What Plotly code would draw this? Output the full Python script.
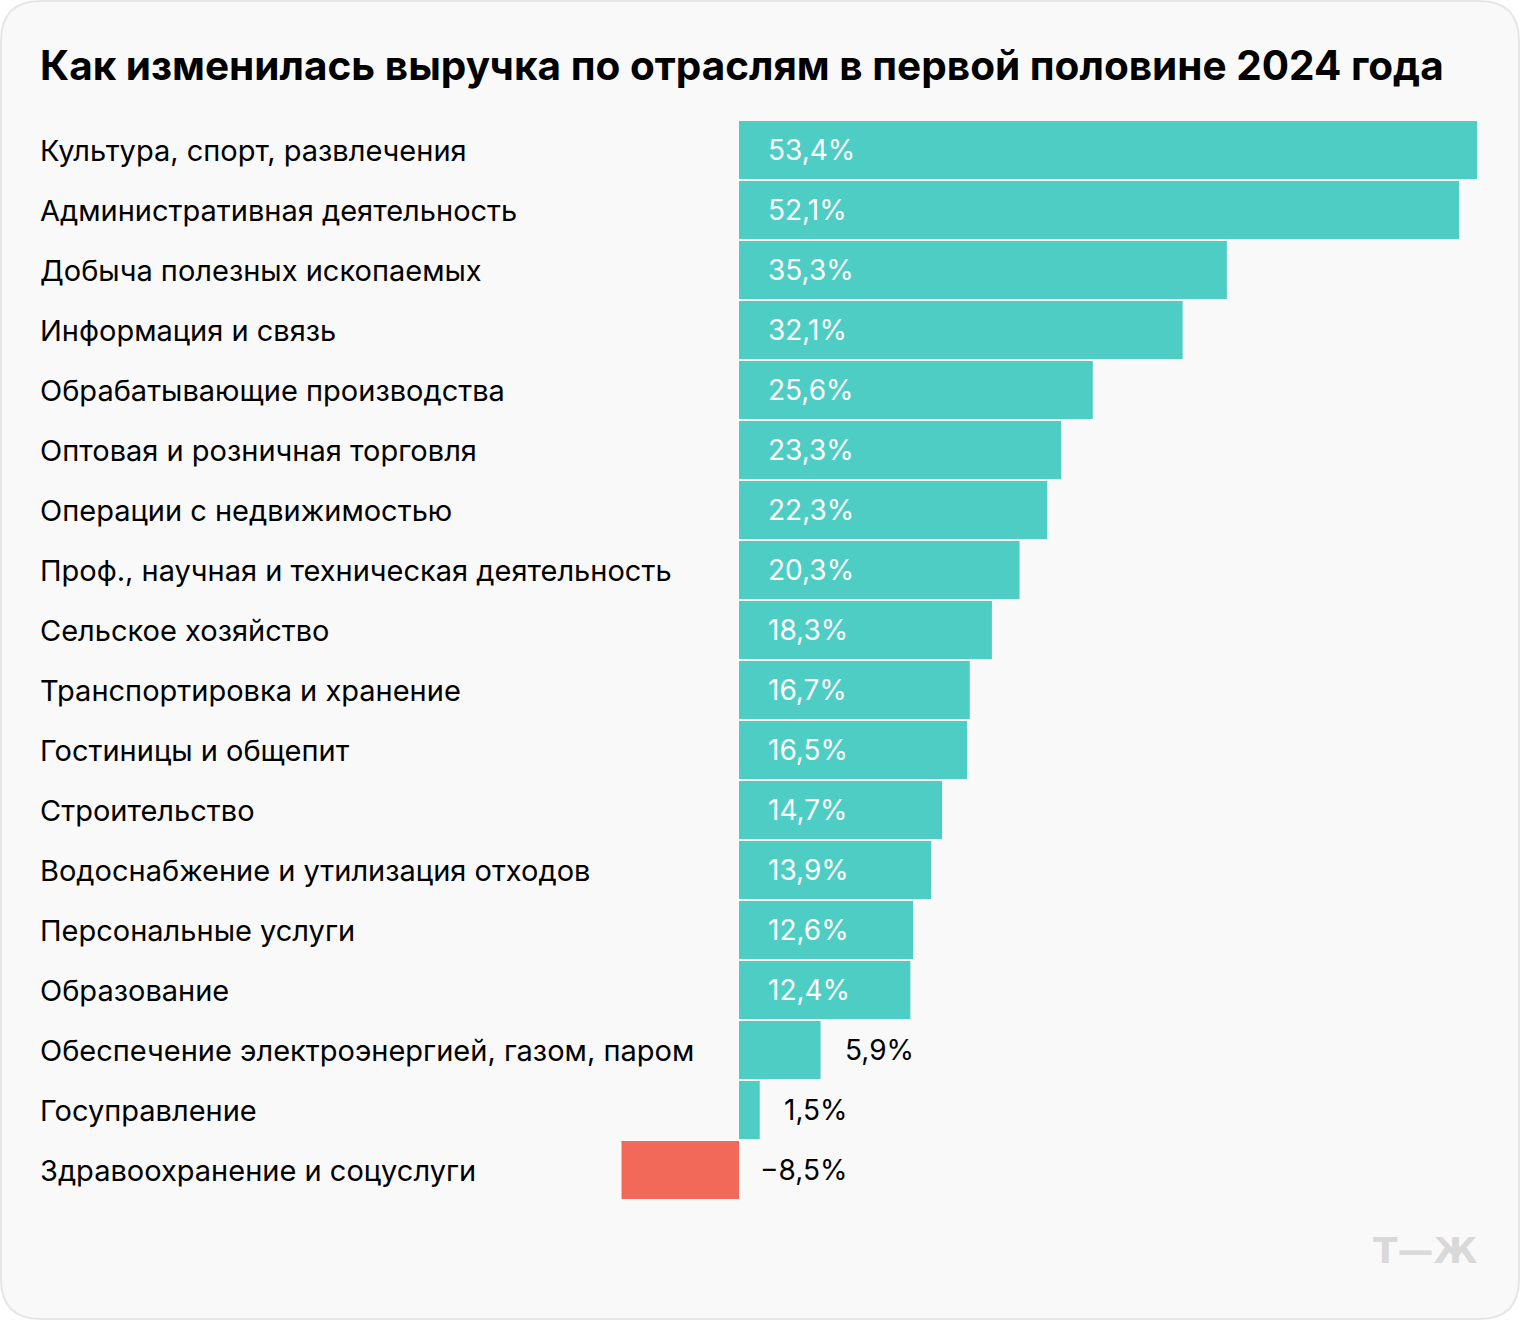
import plotly.graph_objects as go

categories = [
    "Культура, спорт, развлечения",
    "Административная деятельность",
    "Добыча полезных ископаемых",
    "Информация и связь",
    "Обрабатывающие производства",
    "Оптовая и розничная торговля",
    "Операции с недвижимостью",
    "Проф., научная и техническая деятельность",
    "Сельское хозяйство",
    "Транспортировка и хранение",
    "Гостиницы и общепит",
    "Строительство",
    "Водоснабжение и утилизация отходов",
    "Персональные услуги",
    "Образование",
    "Обеспечение электроэнергией, газом, паром",
    "Госуправление",
    "Здравоохранение и соцуслуги",
]
values = [53.4, 52.1, 35.3, 32.1, 25.6, 23.3, 22.3, 20.3, 18.3, 16.7, 16.5,
          14.7, 13.9, 12.6, 12.4, 5.9, 1.5, -8.5]
value_labels = ["53,4%", "52,1%", "35,3%", "32,1%", "25,6%", "23,3%", "22,3%",
                "20,3%", "18,3%", "16,7%", "16,5%", "14,7%", "13,9%", "12,6%",
                "12,4%", "5,9%", "1,5%", "−8,5%"]
title = "Как изменилась выручка по отраслям в первой половине 2024 года"

W, H = 1520, 1320
L, R, T, B = 600, 1477, 120, 1200  # plot area in px
TEAL = "#4ecdc4"
RED = "#f26859"
FONT = "Inter, Roboto, sans-serif"

# axis range: 0 at px 739, max value at right edge
zero_px = 739
xmax = max(values)
ppu = (R - zero_px) / xmax
xmin = -(zero_px - L) / ppu

colors = [TEAL if v >= 0 else RED for v in values]

fig = go.Figure(go.Bar(
    x=values, y=categories, orientation="h",
    marker=dict(color=colors, line=dict(width=0)),
    hoverinfo="skip",
))

def px2x(px):
    return (px - L) / (R - L)

def py2y(py):
    return (B - py) / (B - T)

annotations = []
# title
annotations.append(dict(
    text="<b>" + title + "</b>", x=px2x(38), y=py2y(65), xref="paper", yref="paper",
    xanchor="left", yanchor="middle", showarrow=False,
    font=dict(family=FONT, size=40.5, color="#000000"),
))
for cat, v, lab in zip(categories, values, value_labels):
    annotations.append(dict(
        text=cat, x=px2x(38), y=cat, xref="paper", yref="y",
        xanchor="left", yanchor="middle", showarrow=False,
        font=dict(family=FONT, size=29, color="#000000"),
    ))
    if v >= 8:
        annotations.append(dict(text=lab, x=0, y=cat, xref="x", yref="y",
                                xanchor="left", yanchor="middle", xshift=27,
                                showarrow=False,
                                font=dict(family=FONT, size=28, color="#ffffff")))
    elif v >= 0:
        annotations.append(dict(text=lab, x=v, y=cat, xref="x", yref="y",
                                xanchor="left", yanchor="middle", xshift=22,
                                showarrow=False,
                                font=dict(family=FONT, size=28, color="#000000")))
    else:
        annotations.append(dict(text=lab, x=0, y=cat, xref="x", yref="y",
                                xanchor="left", yanchor="middle", xshift=19,
                                showarrow=False,
                                font=dict(family=FONT, size=28, color="#000000")))

# logo
annotations.append(dict(
    text="<b>Т—Ж</b>", x=px2x(1480), y=py2y(1250), xref="paper", yref="paper",
    xanchor="right", yanchor="middle", showarrow=False,
    font=dict(family="DejaVu Sans, sans-serif", size=36, color="#d9d9d9"),
))

# rounded card
x0, y0, x1, y1, r = 1, 1, 1519, 1319, 40
def P(px, py):
    return f"{px2x(px):.5f},{py2y(py):.5f}"
path = (f"M {P(x0 + r, y0)} L {P(x1 - r, y0)} Q {P(x1, y0)} {P(x1, y0 + r)} "
        f"L {P(x1, y1 - r)} Q {P(x1, y1)} {P(x1 - r, y1)} "
        f"L {P(x0 + r, y1)} Q {P(x0, y1)} {P(x0, y1 - r)} "
        f"L {P(x0, y0 + r)} Q {P(x0, y0)} {P(x0 + r, y0)} Z")

fig.update_layout(
    width=W, height=H,
    margin=dict(l=L, r=W - R, t=T, b=H - B, pad=0),
    paper_bgcolor="#ffffff", plot_bgcolor="rgba(0,0,0,0)",
    showlegend=False,
    bargap=2 / 60,
    xaxis=dict(range=[xmin, xmax], visible=False, fixedrange=True),
    yaxis=dict(autorange="reversed", visible=False, fixedrange=True),
    annotations=annotations,
    shapes=[dict(type="path", path=path, xref="paper", yref="paper",
                 fillcolor="#f9f9f9", line=dict(color="#e6e6e6", width=2),
                 layer="below")],
)

fig.write_html("out.html", config={"displayModeBar": False},
               post_script="document.body.style.margin='0';")
